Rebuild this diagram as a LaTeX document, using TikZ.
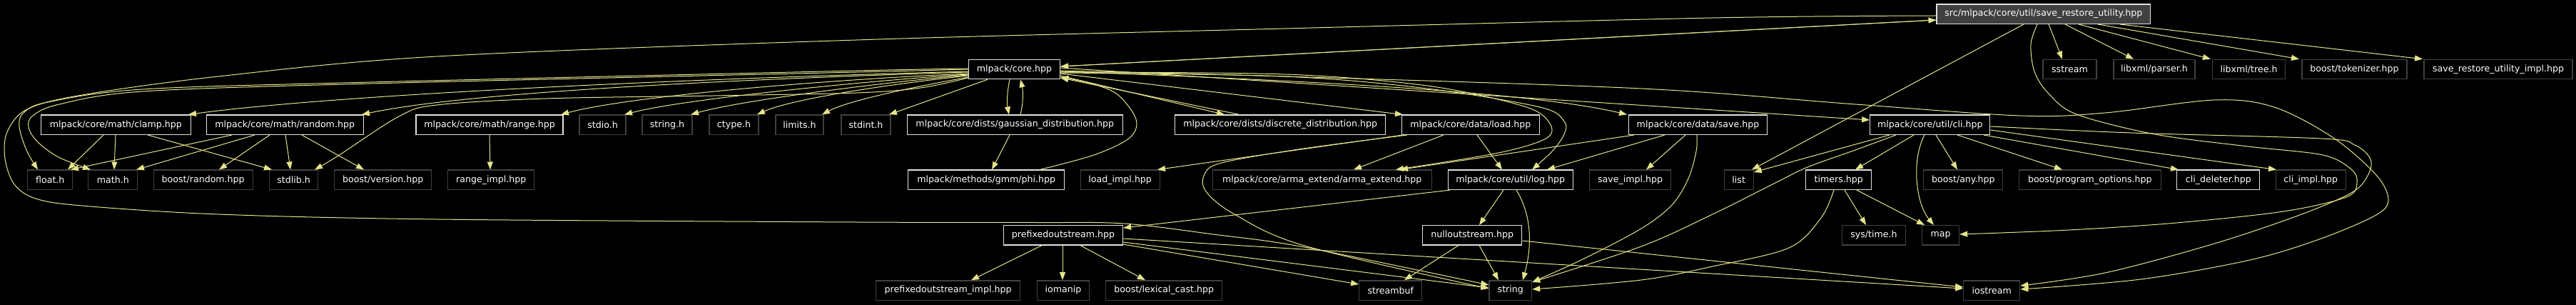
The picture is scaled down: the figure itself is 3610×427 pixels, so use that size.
\documentclass[tikz,border=0pt]{standalone}
\usepackage{fontspec}
\setmainfont{DejaVu Sans}
\usetikzlibrary{arrows.meta}
\definecolor{edgec}{RGB}{228,228,140}
\definecolor{docb}{RGB}{225,225,225}
\definecolor{extb}{RGB}{64,64,64}
\definecolor{rootf}{RGB}{64,64,64}
\begin{document}
\begin{tikzpicture}[x=1pt,y=-1pt,
  box/.style={inner sep=0pt, minimum height=27.3pt, line width=1.3pt, text=white, fill=black, font=\fontsize{12.6pt}{15pt}\selectfont},
  doc/.style={box, draw=docb},
  ext/.style={box, draw=extb},
  rootn/.style={box, draw=docb, fill=rootf},
  e/.style={draw=edgec, line width=1pt, -{Triangle[length=11pt,width=8pt]}},
  sm/.style={smooth, tension=0.55}]
\useasboundingbox (0,0) rectangle (3610,427);
\fill[black] (0,0) rectangle (3610,427);
% row 1
\node[rootn, minimum width=299.5pt] (root) at (2863.8,19.7) {src/mlpack/core/util/save\_restore\_utility.hpp};
% row 2
\node[doc, minimum width=128pt] (core) at (1421.5,97) {mlpack/core.hpp};
\node[ext, minimum width=75pt] (sstream) at (2900.5,97) {sstream};
\node[ext, minimum width=114pt] (parser) at (3019,97) {libxml/parser.h};
\node[ext, minimum width=102pt] (tree) at (3151.6,97) {libxml/tree.h};
\node[ext, minimum width=147pt] (tokenizer) at (3299.4,97) {boost/tokenizer.hpp};
\node[ext, minimum width=208pt] (rimpl) at (3501,97) {save\_restore\_utility\_impl.hpp};
% row 3
\node[doc, minimum width=210pt] (clamp) at (162.3,174.7) {mlpack/core/math/clamp.hpp};
\node[doc, minimum width=220pt] (random) at (399.2,174.7) {mlpack/core/math/random.hpp};
\node[doc, minimum width=206pt] (range) at (686.1,174.7) {mlpack/core/math/range.hpp};
\node[ext, minimum width=65pt] (stdio) at (844.5,174.7) {stdio.h};
\node[ext, minimum width=70pt] (stringh) at (935,174.7) {string.h};
\node[ext, minimum width=69pt] (ctype) at (1028.5,174.7) {ctype.h};
\node[ext, minimum width=67pt] (limits) at (1120.5,174.7) {limits.h};
\node[ext, minimum width=69pt] (stdint) at (1213.5,174.7) {stdint.h};
\node[doc, minimum width=302pt] (gaussian) at (1422.2,174.7) {mlpack/core/dists/gaussian\_distribution.hpp};
\node[doc, minimum width=295pt] (discrete) at (1794.2,174.7) {mlpack/core/dists/discrete\_distribution.hpp};
\node[doc, minimum width=193pt] (load) at (2060.8,174.7) {mlpack/core/data/load.hpp};
\node[doc, minimum width=194pt] (save) at (2379.5,174.7) {mlpack/core/data/save.hpp};
\node[doc, minimum width=168pt] (cli) at (2704.8,174.7) {mlpack/core/util/cli.hpp};
% row 4
\node[ext, minimum width=63pt] (float) at (70.3,251.8) {float.h};
\node[ext, minimum width=69pt] (math) at (158.3,251.8) {math.h};
\node[ext, minimum width=139pt] (brandom) at (284.7,251.8) {boost/random.hpp};
\node[ext, minimum width=68pt] (stdlib) at (411.5,251.8) {stdlib.h};
\node[ext, minimum width=136pt] (bversion) at (536.8,251.8) {boost/version.hpp};
\node[ext, minimum width=121pt] (rangeimpl) at (688.3,251.8) {range\_impl.hpp};
\node[doc, minimum width=219pt] (phi) at (1382.2,251.8) {mlpack/methods/gmm/phi.hpp};
\node[ext, minimum width=111pt] (limpl) at (1569.7,251.8) {load\_impl.hpp};
\node[ext, minimum width=307pt] (arma) at (1852.7,251.8) {mlpack/core/arma\_extend/arma\_extend.hpp};
\node[doc, minimum width=175pt] (log) at (2116.7,251.8) {mlpack/core/util/log.hpp};
\node[ext, minimum width=114.5pt] (simpl) at (2284.5,251.8) {save\_impl.hpp};
\node[ext, minimum width=41pt] (list) at (2436.7,251.8) {list};
\node[doc, minimum width=92pt] (timers) at (2576.8,251.8) {timers.hpp};
\node[ext, minimum width=111pt] (any) at (2751.3,251.8) {boost/any.hpp};
\node[ext, minimum width=199pt] (popt) at (2928.8,251.8) {boost/program\_options.hpp};
\node[doc, minimum width=116pt] (deleter) at (3108.8,251.8) {cli\_deleter.hpp};
\node[ext, minimum width=98pt] (cimpl) at (3238.2,251.8) {cli\_impl.hpp};
% row 5
\node[doc, minimum width=167pt] (prefixed) at (1490,329.3) {prefixedoutstream.hpp};
\node[doc, minimum width=139pt] (null) at (2063.3,329.3) {nulloutstream.hpp};
\node[ext, minimum width=89pt] (systime) at (2626,329.3) {sys/time.h};
\node[ext, minimum width=52pt] (map) at (2719.5,329.3) {map};
% row 6
\node[ext, minimum width=202pt] (pimpl) at (1328.6,406.5) {prefixedoutstream\_impl.hpp};
\node[ext, minimum width=73.5pt] (iomanip) at (1490,406.5) {iomanip};
\node[ext, minimum width=163pt] (lexical) at (1631.2,406.5) {boost/lexical\_cast.hpp};
\node[ext, minimum width=88pt] (streambuf) at (1948.8,406.5) {streambuf};
\node[ext, minimum width=59.5pt] (string) at (2116.8,406.5) {string};
\node[ext, minimum width=79pt] (iostream) at (2791.2,406.5) {iostream};

% ---- root edges
\draw[e] (root.south -| 2871,0) -- (sstream.north -| 2890,0);
\draw[e] (root.south -| 2894,0) -- (parser.north -| 2990,0);
\draw[e] (root.south -| 2913,0) -- (tree.north -| 3098,0);
\draw[e] (root.south -| 2940,0) -- (tokenizer.north -| 3222,0);
\draw[e] (root.south -| 2971,0) -- (rimpl.north -| 3395,0);
\draw[e] (root.south -| 2836,0) -- (list.north -| 2455,0);
\draw[e] (root.west |- 0,28) -- (core.east |- 0,93);
\draw[e] (core.east |- 0,93) -- (root.west |- 0,28);
\draw[e] plot[sm] coordinates {(root.west |- 0,22) (2400,25) (1800,40) (1200,56) (612,79) (306,107) (115,133) (38,153) (10,185) (7,222) (20,258) (50,278) (115,288) (306,300) (612,307) (1200,311) (1450,311.5) (1575,313) (1700,328) (1828,346) (string.west |- 0,399)};
\draw[e] plot[sm] coordinates {(root.south -| 2855,0) (2846,62) (2851,100) (2870,130) (2910,160) (3020,188) (3150,205) (3255,217) (3295,237) (3303,256) (3288,276) (3200,296) (3050,312) (2900,322) (map.east |- 0,328)};

% ---- core edges
\draw[e] (core.west |- 0,100) .. controls (900,112) and (450,135) .. (clamp.north -| 264,0);
\draw[e] (core.west |- 0,101) .. controls (1000,112) and (650,130) .. (random.north -| 507,0);
\draw[e] (core.west |- 0,103) .. controls (1150,112) and (880,135) .. (range.north -| 786,0);
\draw[e] (core.west |- 0,104) .. controls (1230,112) and (960,138) .. (stdio.north -| 875,0);
\draw[e] (core.west |- 0,105) .. controls (1250,114) and (1040,140) .. (stringh.north -| 968,0);
\draw[e] (core.west |- 0,106) .. controls (1260,116) and (1110,138) .. (ctype.north -| 1061,0);
\draw[e] (core.west |- 0,108) .. controls (1290,120) and (1190,140) .. (limits.north -| 1152,0);
\draw[e] (core.south -| 1384,0) -- (stdint.north -| 1246,0);
\draw[e] plot[sm] coordinates {(core.west |- 0,109) (1290,123) (1200,130) (1000,134) (765,138) (612,147) (559,163) (474,218) (stdlib.north -| 441,0)};
\draw[e] plot[sm] coordinates {(core.west |- 0,96) (1200,99) (520,115) (200,125) (67,143) (33,158) (27,177) (37,210) (float.north -| 53,0)};
\draw[e] plot[sm] coordinates {(core.west |- 0,97) (1200,101) (520,117) (200,128) (83,146) (46,162) (40,178) (52,198) (82,220) (math.north -| 127,0)};
\draw[e] (core.south -| 1415,0) .. controls (1411,130) and (1411,145) .. (gaussian.north -| 1414,0);
\draw[e] (gaussian.north -| 1430,0) .. controls (1434,145) and (1434,128) .. (core.south -| 1430,0);
\draw[e] (gaussian.south -| 1415,0) -- (phi.north -| 1390,0);
\draw[e] plot[sm] coordinates {(phi.north -| 1457,0) (1533,217) (1583,193) (1592,167) (1567,133) (1533,118) (core.east |- 0,108)};
\draw[e] (core.east |- 0,106) -- (discrete.north -| 1716,0);
\draw[e] (discrete.north -| 1737,0) -- (core.east |- 0,109);
\draw[e] (core.east |- 0,103) -- (load.north -| 1966,0);
\draw[e] (core.east |- 0,100) .. controls (1900,115) and (2160,132) .. (save.north -| 2280,0);
\draw[e] (core.east |- 0,95) -- (cli.west |- 0,168);
\draw[e] plot[sm] coordinates {(core.east |- 0,101) (1800,104) (2000,120) (2133,148) (2170,170) (2168,193) (2100,214) (arma.north -| 1956,0)};
\draw[e] plot[sm] coordinates {(core.east |- 0,102) (1800,107) (2000,124) (2158,150) (2192,170) (2192,188) (2175,212) (log.north -| 2147,0)};
\draw[e] plot[sm] coordinates {(core.east |- 0,99) (1800,107) (2300,124) (2600,146) (2832,162) (2950,158) (3103,140) (3187,150) (3270,193) (3330,245) (3347,280) (3328,302) (3250,335) (3153,364) (3000,391) (iostream.east |- 0,405)};

% ---- load
\draw[e] (load.south -| 1966,0) -- (limpl.north -| 1622,0);
\draw[e] (load.south -| 2023,0) -- (arma.north -| 1897,0);
\draw[e] (load.south -| 2070,0) -- (log.north -| 2105,0);
\draw[e] plot[sm] coordinates {(load.south -| 1972,0) (1820,209) (1712,228) (1688,244) (1690,268) (1730,300) (1828,344) (string.west |- 0,404)};

% ---- save
\draw[e] (save.south -| 2362,0) -- (simpl.north -| 2307,0);
\draw[e] (save.south -| 2290,0) -- (arma.north -| 1962,0);
\draw[e] (save.south -| 2333,0) -- (log.north -| 2168,0);
\draw[e] plot[sm] coordinates {(save.south -| 2378,0) (2377,212) (2366,250) (2343,287) (2300,320) (2220,362) (string.east |- 0,395)};

% ---- cli
\draw[e] (cli.south -| 2648,0) -- (list.east |- 0,241);
\draw[e] plot[sm] coordinates {(cli.south -| 2657,0) (2600,210) (2533,234) (2490,255) (2400,300) (2300,345) (string.east |- 0,395)};
\draw[e] (cli.south -| 2682,0) -- (timers.north -| 2600,0);
\draw[e] (cli.south -| 2697,0) .. controls (2678,225) and (2685,285) .. (map.north -| 2710,0);
\draw[e] (cli.south -| 2713,0) -- (any.north -| 2743,0);
\draw[e] (cli.south -| 2743,0) -- (popt.north -| 2890,0);
\draw[e] (cli.south -| 2780,0) -- (deleter.north -| 3053,0);
\draw[e] (cli.east |- 0,182) -- (cimpl.north -| 3190,0);
\draw[e] plot[sm] coordinates {(cli.east |- 0,177) (2987,186) (3253,194) (3300,203) (3322,223) (3318,246) (3295,270) (3220,302) (3100,342) (2950,382) (iostream.east |- 0,400)};

% ---- timers
\draw[e] (timers.south -| 2585,0) -- (systime.north -| 2615,0);
\draw[e] (timers.south -| 2602,0) -- (map.north -| 2697,0);
\draw[e] plot[sm] coordinates {(timers.south -| 2570,0) (2552,305) (2507,347) (2400,373) (2300,392) (string.east |- 0,405)};

% ---- log
\draw[e] (log.south -| 2032,0) -- (prefixed.east |- 0,319);
\draw[e] (log.south -| 2107,0) -- (null.north -| 2073,0);
\draw[e] (log.south -| 2125,0) .. controls (2152,310) and (2143,360) .. (string.north -| 2134,0);

% ---- null
\draw[e] (null.south -| 2073,0) -- (string.north -| 2100,0);
\draw[e] (null.south -| 2044,0) -- (streambuf.north -| 1968,0);
\draw[e] (null.east |- 0,337) -- (iostream.west |- 0,402);

% ---- prefixed
\draw[e] (prefixed.south -| 1460,0) -- (pimpl.north -| 1361,0);
\draw[e] (prefixed.south -| 1489,0) -- (iomanip.north -| 1489,0);
\draw[e] (prefixed.south -| 1514,0) -- (lexical.north -| 1605,0);
\draw[e] (prefixed.east |- 0,342) -- (streambuf.west |- 0,398);
\draw[e] (prefixed.east |- 0,339) -- (string.west |- 0,403);
\draw[e] (prefixed.east |- 0,334) -- (iostream.west |- 0,404);

% ---- clamp / random / range
\draw[e] (clamp.south -| 145,0) -- (float.north -| 95,0);
\draw[e] (clamp.south -| 162,0) -- (math.north -| 160,0);
\draw[e] (clamp.south -| 207,0) -- (stdlib.north -| 381,0);
\draw[e] (random.south -| 325,0) -- (float.north -| 99,0);
\draw[e] (random.south -| 357,0) -- (math.north -| 191,0);
\draw[e] (random.south -| 378,0) -- (brandom.north -| 307,0);
\draw[e] (random.south -| 400,0) -- (stdlib.north -| 407,0);
\draw[e] (random.south -| 423,0) -- (bversion.north -| 510,0);
\draw[e] (range.south -| 686,0) -- (rangeimpl.north -| 687,0);
\end{tikzpicture}
\end{document}
